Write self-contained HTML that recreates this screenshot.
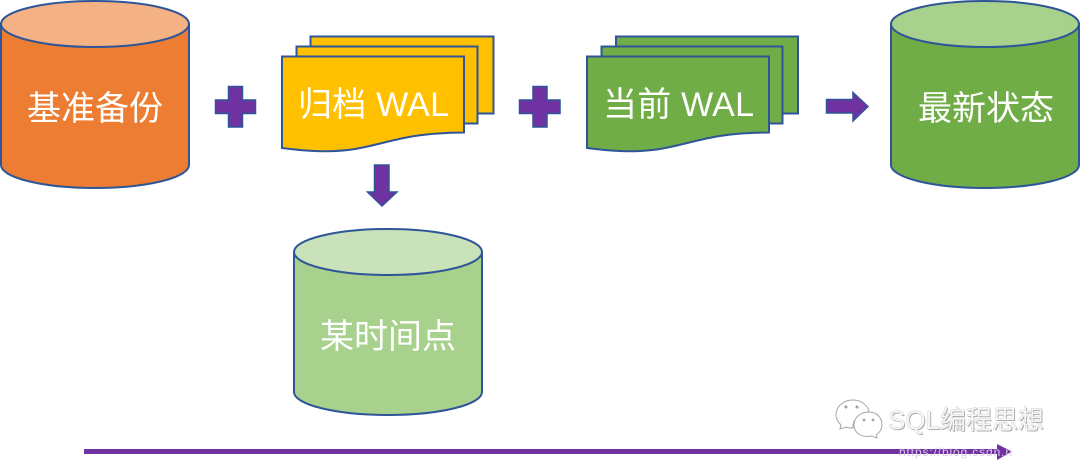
<!DOCTYPE html>
<html lang="zh">
<head>
<meta charset="utf-8">
<title>WAL</title>
<style>
html,body{margin:0;padding:0;background:#fff;width:1080px;height:469px;overflow:hidden}
svg{display:block}
text{font-family:"Liberation Sans","Noto Sans CJK SC",sans-serif}
.l{fill:#fff;font-size:34px}
</style>
</head>
<body>
<svg width="1080" height="469" viewBox="0 0 1080 469" xmlns="http://www.w3.org/2000/svg">
<defs>
<filter id="b" x="-5%" y="-5%" width="110%" height="110%"><feGaussianBlur stdDeviation="0.35"/></filter>
</defs>
<g filter="url(#b)">
<g stroke="#2F5597" stroke-width="2">
<!-- cylinder 1 -->
<path d="M1 24V165A94 23 0 0 0 189 165V24Z" fill="#ED7D31"/>
<ellipse cx="95" cy="24" rx="94" ry="23" fill="#F4B183"/>
<!-- cylinder 4 -->
<path d="M891 24V165A94 23 0 0 0 1079 165V24Z" fill="#70AD47"/>
<ellipse cx="985" cy="24" rx="94" ry="23" fill="#A9D18E"/>
<!-- cylinder 3 -->
<path d="M294 252V392A94 23 0 0 0 482 392V252Z" fill="#A9D18E"/>
<ellipse cx="388" cy="252" rx="94" ry="23" fill="#C9E2B9"/>
<!-- archive docs -->
<rect x="310.500" y="36.500" width="183" height="77" fill="#FFC000"/>
<rect x="296.500" y="46.500" width="181" height="77" fill="#FFC000"/>
<path d="M282 56.500H464V132.500C405 133 390 143 355 149C330 153 305 151 282 148Z" fill="#FFC000"/>
<!-- current docs -->
<rect x="616" y="36.500" width="182" height="77" fill="#70AD47"/>
<rect x="601.500" y="46.500" width="181" height="77" fill="#70AD47"/>
<path d="M587 56.500H769V132.500C710 133 695 143 660 149C635 153 610 151 587 148Z" fill="#70AD47"/>
</g>
<g fill="#7030A0" stroke="#2F5597" stroke-width="1.500">
<path d="M228.500 86.500H242.500V100H255.500V113.500H242.500V127H228.500V113.500H215.500V100H228.500Z"/>
<path d="M533 86.500H547V100H560V113.500H547V127H533V113.500H519.500V100H533Z"/>
<path d="M374.500 165H389V192H397L382 206L367.500 192H374.500Z"/>
<path d="M826.500 99.500H853V92.500L868 106.500L853 121V113H826.500Z"/>
</g>
<!-- timeline -->
<path d="M84 449H997V444L1012 451.500L997 460V454H84Z" fill="#7030A0"/>
</g>
<text class="l" x="27" y="120">基准备份</text>
<text class="l" x="918" y="120">最新状态</text>
<text class="l" x="320" y="348">某时间点</text>
<text class="l" x="298" y="116" textLength="151">归档 WAL</text>
<text class="l" x="603" y="116" textLength="151">当前 WAL</text>
<!-- watermark url -->
<text x="899" y="456" font-size="12" fill="#d9c8e6" textLength="113">https://blog.csdn.n</text>
<!-- watermark -->
<g fill="#fff" stroke="#a8a8a8" stroke-width="1">
<path d="M836 415C836 406 844 400 853 400C862 400 868 406 869 412C860 412 852 420 853 428C850 428 848 428 846 427L840 429L841 425C838 422 836 419 836 415Z"/>
<path d="M854 425C854 417 861 412 869 412C877 412 882 418 882 425C882 430 879 433 876 435L877 438L871 436C862 438 854 433 854 425Z"/>
</g>
<g fill="#a0a0a0">
<circle cx="846" cy="407" r="1.500"/><circle cx="857" cy="407" r="1.500"/>
<circle cx="864" cy="420" r="1.400"/><circle cx="873" cy="420" r="1.400"/>
</g>
<text x="889" y="430" font-size="26" fill="#8c8c8c" opacity="0.7">SQL编程思想</text>
<text x="888" y="429" font-size="26" fill="#f6f6f6" stroke="#b0b0b0" stroke-width="0.500" style="paint-order:stroke">SQL编程思想</text>
</svg>
</body>
</html>
